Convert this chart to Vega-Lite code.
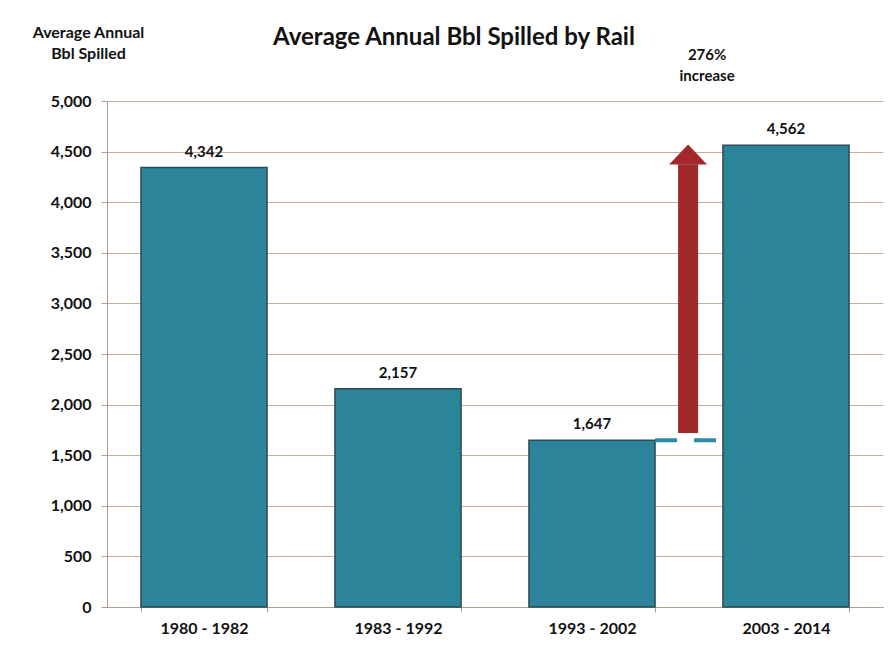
{
  "$schema": "https://vega.github.io/schema/vega-lite/v6.json",
  "width": 776,
  "height": 506,
  "autosize": {"type": "none"},
  "padding": {"left": 107, "top": 101, "right": 6, "bottom": 40},
  "background": "white",
  "config": {
    "view": {"stroke": null},
    "font": "Lato",
    "axis": {"labelFont": "Lato", "titleFont": "Lato"}
  },
  "title": {
    "text": "Average Annual Bbl Spilled by Rail",
    "font": "Lato",
    "fontSize": 24,
    "fontWeight": "bold",
    "color": "#111111",
    "anchor": "middle",
    "dx": -41,
    "dy": 30
  },
  "datasets": {
    "spills": [
      {"period": "1980 - 1982", "bbl": 4342},
      {"period": "1983 - 1992", "bbl": 2157},
      {"period": "1993 - 2002", "bbl": 1647},
      {"period": "2003 - 2014", "bbl": 4562}
    ],
    "baseline": [
      {"from": "1993 - 2002", "to": "2003 - 2014", "level": 1647}
    ],
    "arrow": [
      {"period": "1993 - 2002", "base": 1720, "neck": 4375, "tip": 4570, "noteY": 5455}
    ]
  },
  "encoding": {
    "x": {
      "field": "period",
      "type": "nominal",
      "sort": null,
      "scale": {"paddingInner": 0.35, "paddingOuter": 0.175},
      "axis": {
        "title": null,
        "labelAngle": 0,
        "labelFontSize": 16,
        "labelFontWeight": "bold",
        "labelColor": "#111111",
        "labelPadding": 8,
        "domainColor": "#b89a8c",
        "tickColor": "#b89a8c",
        "tickBand": "extent",
        "tickSize": 5
      }
    }
  },
  "layer": [
    {
      "data": {"name": "spills"},
      "mark": {"type": "bar", "fill": "#2b849a", "stroke": "#2d4a55", "strokeWidth": 1.5},
      "encoding": {
        "y": {
          "field": "bbl",
          "type": "quantitative",
          "scale": {"domain": [0, 5000], "nice": false},
          "axis": {
            "values": [0, 500, 1000, 1500, 2000, 2500, 3000, 3500, 4000, 4500, 5000],
            "format": ",d",
            "title": ["Average Annual", "Bbl Spilled"],
            "titleAngle": 0,
            "titleAlign": "center",
            "titleBaseline": "alphabetic",
            "titleX": -19,
            "titleY": -64,
            "titleFontSize": 16,
            "titleFontWeight": "bold",
            "titleColor": "#111111",
            "titleLineHeight": 21,
            "labelFontSize": 16,
            "labelFontWeight": "bold",
            "labelColor": "#111111",
            "labelPadding": 10,
            "tickSize": 6,
            "tickColor": "#b89a8c",
            "domainColor": "#b89a8c",
            "gridColor": "#c9ada0",
            "gridWidth": 1
          }
        }
      }
    },
    {
      "data": {"name": "spills"},
      "mark": {"type": "text", "font": "Lato", "fontSize": 15, "fontWeight": "bold", "color": "#111111", "dy": -16, "baseline": "middle"},
      "encoding": {
        "y": {"field": "bbl", "type": "quantitative"},
        "text": {"field": "bbl", "type": "quantitative", "format": ",d"}
      }
    },
    {
      "data": {"name": "baseline"},
      "mark": {"type": "rule", "color": "#2b8ba5", "strokeWidth": 4, "strokeDash": [22, 17]},
      "encoding": {
        "x": {"field": "from", "type": "nominal", "bandPosition": 1},
        "x2": {"field": "to", "bandPosition": -0.04},
        "y": {"field": "level", "type": "quantitative"}
      }
    },
    {
      "data": {"name": "arrow"},
      "mark": {"type": "rule", "color": "#a2292b", "strokeWidth": 20, "strokeCap": "butt"},
      "encoding": {
        "x": {"field": "period", "type": "nominal", "bandPosition": 1.262},
        "y": {"field": "base", "type": "quantitative"},
        "y2": {"field": "neck"}
      }
    },
    {
      "data": {"name": "arrow"},
      "mark": {"type": "point", "shape": "M-1,1.05L1,1.05L0,0Z", "filled": true, "color": "#a2292b", "opacity": 1, "size": 1444},
      "encoding": {
        "x": {"field": "period", "type": "nominal", "bandPosition": 1.262},
        "y": {"field": "tip", "type": "quantitative"}
      }
    },
    {
      "data": {"name": "arrow"},
      "mark": {"type": "text", "font": "Lato", "fontSize": 15, "fontWeight": "bold", "color": "#111111", "dx": 19, "baseline": "middle", "lineHeight": 21},
      "encoding": {
        "x": {"field": "period", "type": "nominal", "bandPosition": 1.262},
        "y": {"field": "noteY", "type": "quantitative"},
        "text": {"value": ["276%", "increase"]}
      }
    }
  ]
}
